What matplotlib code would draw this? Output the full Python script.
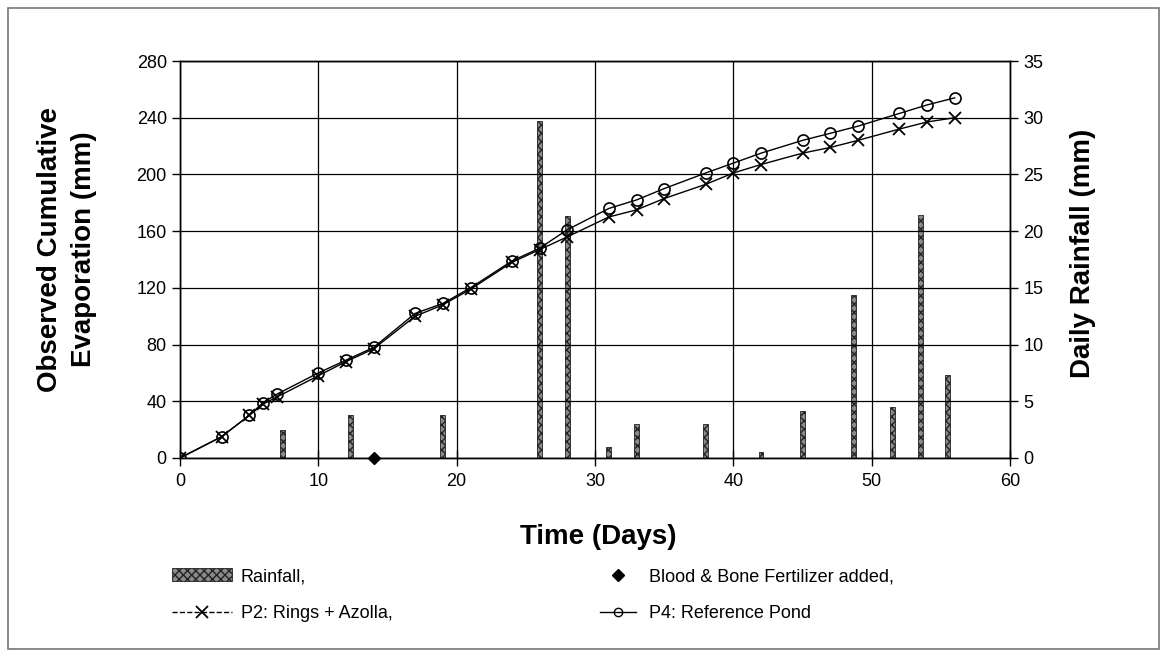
import matplotlib
matplotlib.use('Agg')
import matplotlib.pyplot as plt
from matplotlib.patches import Patch, Rectangle
from matplotlib.lines import Line2D

plt.rcParams['font.family'] = ['Liberation Sans', 'DejaVu Sans']
plt.rcParams['hatch.linewidth'] = 1.0

# cumulative evaporation (mm)
days = [0, 3, 5, 6, 7, 10, 12, 14, 17, 19, 21, 24, 26, 28, 31, 33, 35, 38, 40,
        42, 45, 47, 49, 52, 54, 56]
p2_evap = [0, 15, 30, 38, 43, 58, 68, 77, 100, 108, 119, 138, 147, 156, 170, 175,
           183, 193, 201, 207, 215, 219, 224, 232, 237, 240]
p4_evap = [0, 15, 30, 39, 45, 60, 69, 78, 102, 109, 120, 139, 148, 161, 176, 182,
           190, 201, 208, 215, 224, 229, 234, 243, 249, 254]

# daily rainfall (mm)
rain_days = [7.4, 12.3, 19, 26, 28, 31, 33, 38, 42, 45, 48.7, 51.5, 53.5, 55.5]
rain_mm = [2.5, 3.8, 3.8, 29.7, 21.3, 1.0, 3.0, 3.0, 0.5, 4.1, 14.4, 4.5, 21.4, 7.3]

fert_day = [14]
fert_val = [0]

W, H = 1167, 656
fig = plt.figure(figsize=(W / 100, H / 100), dpi=100)
fig.patches.append(Rectangle((0.007, 0.01), 0.986, 0.978, transform=fig.transFigure,
                             fill=False, edgecolor='#777777', linewidth=1.2))

ax = fig.add_axes([180/W, 1-458/H, 830/W, 397/H])
ax2 = ax.twinx()
ax.set_zorder(ax2.get_zorder() + 1)
ax.patch.set_visible(False)

bar_style = dict(facecolor='#8a8a8a', edgecolor='#222222', hatch='xxxx', linewidth=0.6)
ax2.bar(rain_days, rain_mm, width=0.35, **bar_style)

ax.plot(days, p2_evap, color='black', linewidth=1.0, marker='x', markersize=8,
        markeredgewidth=1.3)
ax.plot(days, p4_evap, color='black', linewidth=1.0, marker='o', markersize=8,
        markerfacecolor='none', markeredgewidth=1.2)
ax.plot(fert_day, fert_val, linestyle='none', marker='D', markersize=6,
        color='black', clip_on=False)

ax.set_xlim(0, 60)
ax.set_ylim(0, 280)
ax2.set_ylim(0, 35)
ax.set_xticks(range(0, 61, 10))
ax.set_yticks(range(0, 281, 40))
ax2.set_yticks(range(0, 36, 5))

ax.grid(True, color='black', linewidth=0.9)
ax.set_axisbelow(True)
for a in (ax, ax2):
    a.tick_params(labelsize=13, length=6, width=1)
    for s in a.spines.values():
        s.set_linewidth(1.0)
ax.tick_params(axis='x', direction='inout', length=12, pad=5)

fig.text(67/W, 1-249/H, 'Observed Cumulative\nEvaporation (mm)', fontsize=20,
         fontweight='bold', rotation=90, ha='center', va='center',
         multialignment='center', linespacing=1.4)
fig.text(1083/W, 1-253/H, 'Daily Rainfall (mm)', fontsize=20, fontweight='bold',
         rotation=90, ha='center', va='center')
fig.text(598/W, 1-537/H, 'Time (Days)', fontsize=20, fontweight='bold',
         ha='center', va='center')

# legend, two columns with different handle lengths
col1 = [Patch(**bar_style),
        Line2D([], [], color='black', linewidth=1.0, marker='x', markersize=8,
               markeredgewidth=1.3, linestyle='--')]
col2 = [Line2D([], [], linestyle='none', marker='D', markersize=6, color='black'),
        Line2D([], [], color='black', linewidth=1.0, marker='o', markersize=6,
               markerfacecolor='none')]
leg_kw = dict(loc='upper left', frameon=False, fontsize=13, borderpad=0,
              borderaxespad=0, labelspacing=1.1)
fig.legend(col1, ['Rainfall,', 'P2: Rings + Azolla,'],
           bbox_to_anchor=(172/W, 1-568/H), handlelength=3.3, handletextpad=0.5,
           **leg_kw)
fig.legend(col2, ['Blood & Bone Fertilizer added,', 'P4: Reference Pond'],
           bbox_to_anchor=(600/W, 1-568/H), handlelength=2.0, handletextpad=0.7,
           **leg_kw)

plt.savefig('out.png', dpi=100)
